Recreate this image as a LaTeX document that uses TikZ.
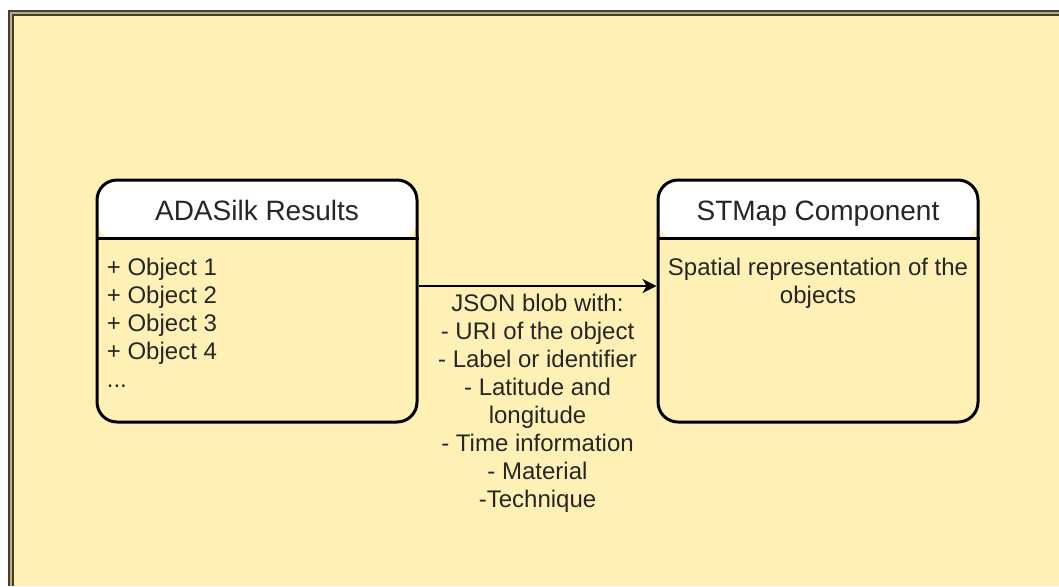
\documentclass[tikz,border=0pt]{standalone}
\usepackage{fontspec}
\setmainfont{Liberation Sans}
\usetikzlibrary{arrows.meta}
\definecolor{noteyellow}{RGB}{255,241,181}
\definecolor{framedark}{RGB}{66,62,48}
\definecolor{frametan}{RGB}{186,172,124}
\definecolor{inktext}{RGB}{38,38,38}

\begin{document}
\begin{tikzpicture}[x=0.5pt,y=-0.5pt]
\tikzstyle{every node}+=[inner sep=0pt, text=inktext]
\tikzstyle{classbox}=[draw=black, line width=1.5pt, rounded corners=10pt, minimum width=160pt, minimum height=121pt,
  path picture={\fill[white] (path picture bounding box.north west) rectangle ([yshift=-30pt]path picture bounding box.north east);}]
\tikzstyle{titletext}=[font=\fontsize{14}{17}\selectfont, text height=10pt, text depth=3pt]
\tikzstyle{bodytext}=[font=\fontsize{12}{14}\selectfont]
\useasboundingbox (0,0) rectangle (1059,586);
\fill [noteyellow] (8,10) rectangle (1059,586);
\draw [frametan, line width=3pt] (10.75,586) -- (10.75,12.75) -- (1059,12.75);
\draw [framedark, line width=1pt] (8.5,586) -- (8.5,10.5) -- (1059,10.5);
\draw [framedark, line width=1pt] (13,586) -- (13,15) -- (1059,15);
\node [classbox] (adasilk) at (257,301) {};
\node [classbox] (stmap) at (818,301) {};
\draw [black, line width=1.5pt] ([yshift=-30pt]adasilk.north west) -- ([yshift=-30pt]adasilk.north east);
\draw [black, line width=1.5pt] ([yshift=-30pt]stmap.north west) -- ([yshift=-30pt]stmap.north east);
\node [titletext] (adasilk-title) at ([yshift=-17.5pt]adasilk.north) {ADASilk Results};
\node [titletext] (stmap-title) at ([yshift=-17.5pt]stmap.north) {STMap Component};
\node [bodytext, anchor=north west, align=left] (adasilk-items) at ([xshift=5.5pt,yshift=-39.5pt]adasilk.north west)
  {+ Object 1\\+ Object 2\\+ Object 3\\+ Object 4\\...};
\node [bodytext, anchor=north, align=center] (stmap-desc) at ([yshift=-39.5pt]stmap.north)
  {Spatial representation of the\\objects};
\draw [black, line width=0.75pt, -{Stealth[length=7pt,width=7pt,inset=2pt]}] ([yshift=7.5pt]adasilk.east) -- ([yshift=7.5pt]stmap.west)
  node [bodytext, midway, anchor=north, yshift=-3.5pt, align=center] (json-label)
  {JSON blob with:\\- URI of the object\\- Label or identifier\\- Latitude and\\longitude\\- Time information\\- Material\\-Technique};
\end{tikzpicture}
\end{document}
